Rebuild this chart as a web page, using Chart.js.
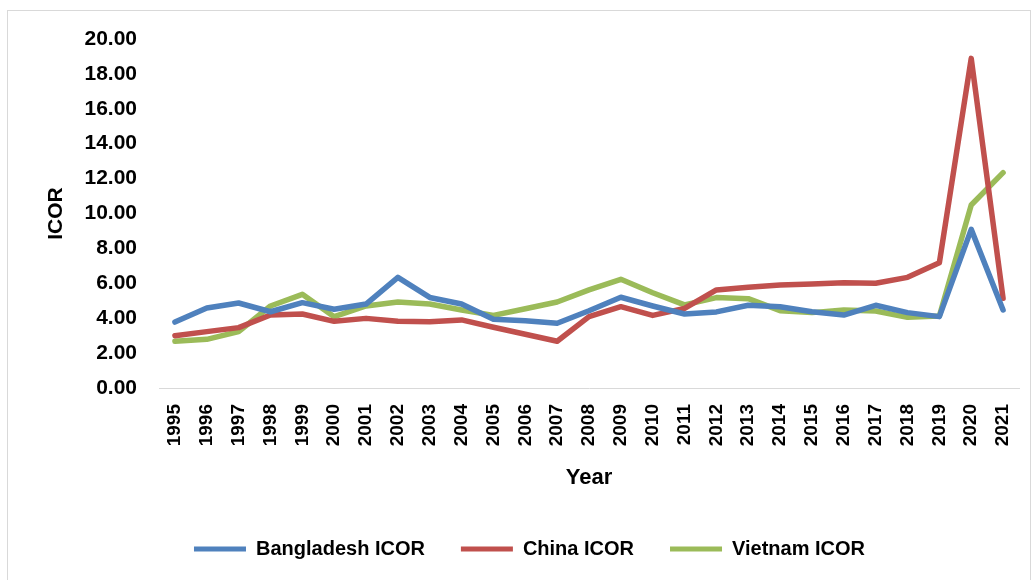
<!DOCTYPE html>
<html>
<head>
<meta charset="utf-8">
<script src="https://cdn.jsdelivr.net/npm/chart.js@4"></script>
<style>
  html, body { margin: 0; padding: 0; background: #fff; }
  #frame { position: absolute; left: 7px; top: 10px; width: 1024px; height: 580px; border: 1px solid #d9d9d9; box-sizing: border-box; }
  #wrap { position: absolute; left: 0; top: 0; width: 1036px; height: 580px; }
</style>
</head>
<body>
<div id="frame"></div>
<div id="wrap"><canvas id="c" width="1036" height="580"></canvas></div>
<script>
const years = ["1995","1996","1997","1998","1999","2000","2001","2002","2003","2004","2005","2006","2007","2008","2009","2010","2011","2012","2013","2014","2015","2016","2017","2018","2019","2020","2021"];
const bangladeshICOR = [3.78,4.58,4.87,4.37,4.89,4.51,4.81,6.34,5.19,4.81,3.94,3.86,3.71,4.43,5.20,4.70,4.24,4.36,4.74,4.66,4.37,4.18,4.74,4.32,4.09,9.09,4.47];
const chinaICOR = [3.00,3.23,3.46,4.18,4.24,3.82,3.99,3.82,3.80,3.90,3.48,3.08,2.68,4.09,4.66,4.16,4.56,5.62,5.77,5.90,5.96,6.03,6.00,6.34,7.18,18.89,5.14];
const vietnamICOR = [2.68,2.79,3.23,4.70,5.37,4.09,4.70,4.93,4.81,4.47,4.16,4.54,4.93,5.62,6.23,5.46,4.76,5.18,5.12,4.43,4.32,4.47,4.41,4.05,4.13,10.49,12.34];
const seriesNames = ["Bangladesh ICOR","China ICOR","Vietnam ICOR"];
const seriesColors = ["#4F81BD","#C0504D","#9BBB59"];

const FONT = "'Liberation Sans', Arial, sans-serif";

function ds(label, data, color) {
  return {
    label, data,
    borderColor: color, backgroundColor: color,
    borderWidth: 5.5, pointRadius: 0, pointHoverRadius: 0,
    tension: 0, fill: false,
    borderCapStyle: 'round', borderJoinStyle: 'round'
  };
}

new Chart(document.getElementById('c'), {
  type: 'line',
  data: {
    labels: years,
    datasets: [
      ds(seriesNames[0], bangladeshICOR, seriesColors[0]),
      ds(seriesNames[1], chinaICOR, seriesColors[1]),
      ds(seriesNames[2], vietnamICOR, seriesColors[2])
    ]
  },
  options: {
    responsive: false,
    animation: false,
    events: [],
    layout: { padding: { left: 40, right: 17, top: 39, bottom: 11 } },
    plugins: {
      tooltip: { enabled: false },
      legend: {
        position: 'bottom',
        labels: {
          color: '#000',
          font: { family: FONT, size: 20, weight: 'bold' },
          boxWidth: 52,
          boxHeight: 5,
          padding: 36,
          generateLabels: function(chart) {
            const items = Chart.defaults.plugins.legend.labels.generateLabels(chart);
            items.forEach(it => { it.lineWidth = 0; it.fillStyle = it.strokeStyle; });
            return items;
          }
        }
      }
    },
    scales: {
      x: {
        offset: true,
        grid: { display: false, drawTicks: false },
        border: { display: true, color: '#d9d9d9', width: 1 },
        ticks: {
          color: '#000',
          font: { family: FONT, size: 19, weight: 'bold' },
          minRotation: 90, maxRotation: 90,
          autoSkip: false,
          padding: 16
        },
        title: {
          display: true, text: 'Year', color: '#000',
          font: { family: FONT, size: 22, weight: 'bold' },
          padding: { top: 4, bottom: 12 }
        },
        afterFit: function(s) { s.height = 115; s.paddingLeft = 0; s.paddingRight = 0; }
      },
      y: {
        min: 0, max: 20,
        grid: { display: false, drawTicks: false },
        border: { display: false },
        ticks: {
          stepSize: 2,
          color: '#000',
          font: { family: FONT, size: 21, weight: 'bold' },
          padding: 22,
          callback: v => Number(v).toFixed(2)
        },
        title: {
          display: true, text: 'ICOR', color: '#000',
          font: { family: FONT, size: 21, weight: 'bold' },
          padding: { top: 4, bottom: 4 }
        },
        afterFit: function(s) { s.width = 119; }
      }
    }
  }
});
</script>
</body>
</html>
